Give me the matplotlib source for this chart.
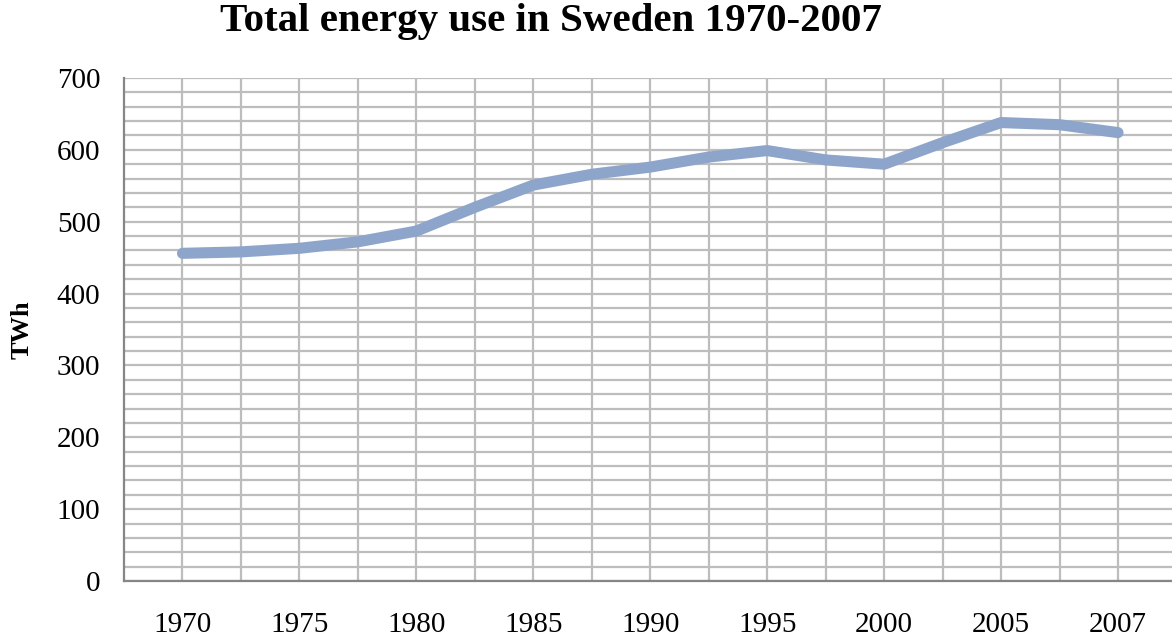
import numpy as np
import matplotlib.pyplot as plt

# category positions (labels shown on every second one)
tick_labels = ['1970', '1975', '1980', '1985', '1990', '1995', '2000', '2005', '2007']
energy_twh = [456, 458, 463, 472, 487, 520, 551, 566, 576, 590,
              599, 586, 580, 610, 638, 635, 624]

plt.rcParams['font.family'] = ['Liberation Serif', 'DejaVu Serif']

fig = plt.figure(figsize=(11.72, 6.36), dpi=100)
ax = fig.add_axes([124/1172, (636-581)/636, (1176.5-124)/1172, (581-78)/636])

x = np.arange(len(energy_twh))
ax.plot(x, energy_twh, color='#8ea5cb', lw=8, solid_joinstyle='round',
        solid_capstyle='round', zorder=3)

ax.set_xlim(-1, len(energy_twh))
ax.set_ylim(0, 700)
ax.set_xticks(x[::2])
ax.set_xticklabels(tick_labels)
ax.set_xticks(x, minor=True)
ax.set_yticks(np.arange(0, 701, 100))
ax.set_yticks(np.arange(0, 701, 20), minor=True)

ax.grid(which='both', color='#bdbdbd', lw=1.6)
ax.set_axisbelow(True)
ax.tick_params(which='both', length=0)
ax.tick_params(axis='x', pad=22, labelsize=21)
ax.tick_params(axis='y', pad=17, labelsize=21)

for s in ['top', 'right']:
    ax.spines[s].set_visible(False)
for s in ['left', 'bottom']:
    ax.spines[s].set_color('#868686')
    ax.spines[s].set_linewidth(1.6)

fig.text(22/1172, 1 - 330/636, 'TWh', rotation=90, ha='center', va='center',
         fontsize=19, fontweight='bold')
fig.text(551/1172, 1 - 22/636, 'Total energy use in Sweden 1970-2007',
         ha='center', va='center', fontsize=29.5, fontweight='bold')

fig.savefig('out.png', dpi=100)
